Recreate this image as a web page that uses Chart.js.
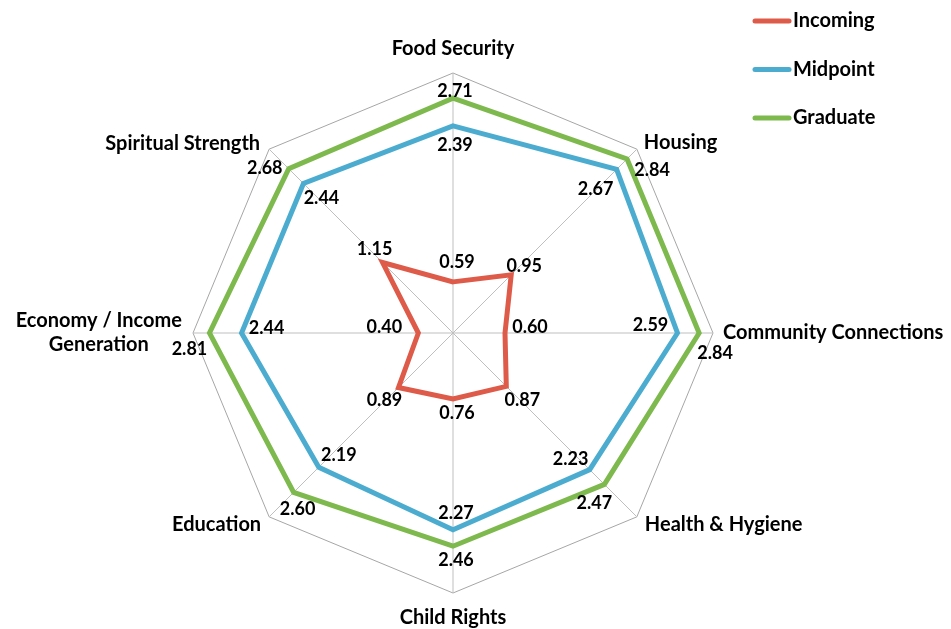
<!DOCTYPE html>
<html>
<head>
<meta charset="utf-8">
<script src="https://cdn.jsdelivr.net/npm/chart.js@4/dist/chart.umd.min.js"></script>
<style>
  body { margin: 0; background: #fff; }
  canvas { display: block; }
</style>
</head>
<body>
<canvas id="radar" width="951" height="629"></canvas>
<script>
// categories (clockwise from top)
const categories = [
  "Food Security",
  "Housing",
  "Community Connections",
  "Health & Hygiene",
  "Child Rights",
  "Education",
  ["Economy / Income", "Generation"],
  "Spiritual Strength",
];

const seriesNames = ["Incoming", "Midpoint", "Graduate"];
const incoming = [0.59, 0.95, 0.6, 0.87, 0.76, 0.89, 0.4, 1.15];
const midpoint = [2.39, 2.67, 2.59, 2.23, 2.27, 2.19, 2.44, 2.44];
const graduate = [2.71, 2.84, 2.84, 2.47, 2.46, 2.6, 2.81, 2.68];

const seriesColors = ["#DE5B49", "#4BACD0", "#7DB94D"];

// where each value label sits relative to its point (dx, dy)
const labelOffsets = [
  [[4, -20], [13, -9], [25, -6], [16, 14], [4, 14], [-14, 13], [-34, -6], [-8, -13]],
  [[2, 19], [-21, 20], [-27, -8], [-19, -10], [3, -17], [20, -12], [25, -5], [18, 15]],
  [[2, -7], [25, 11], [16, 20], [-10, 19], [3, 14], [4, 17], [-20, 16], [-24, -1]],
];

const FONT = "Lato, 'Open Sans', sans-serif";

// value labels next to each point
const valueLabels = {
  id: "valueLabels",
  afterDatasetsDraw(chart) {
    const ctx = chart.ctx;
    ctx.save();
    ctx.font = "bold 18px " + FONT;
    ctx.fillStyle = "#000";
    ctx.textAlign = "center";
    ctx.textBaseline = "middle";
    chart.data.datasets.forEach((ds, di) => {
      const meta = chart.getDatasetMeta(di);
      meta.data.forEach((pt, i) => {
        const off = labelOffsets[di][i];
        ctx.fillText(ds.data[i].toFixed(2), pt.x + off[0], pt.y + off[1]);
      });
    });
    ctx.restore();
  },
};

// category names around the outer ring
const categoryLabels = {
  id: "categoryLabels",
  afterDraw(chart) {
    const scale = chart.scales.r;
    const ctx = chart.ctx;
    const R = scale.drawingArea;
    ctx.save();
    ctx.font = "bold 20px " + FONT;
    ctx.fillStyle = "#000";
    ctx.textBaseline = "middle";
    categories.forEach((label, i) => {
      const p = scale.getPointPosition(i, R);
      const lines = Array.isArray(label) ? label : [label];
      let x = p.x, y = p.y;
      let align = "center";
      if (i === 0) { y -= 24; }
      else if (i === 4) { y += 25; }
      else if (i === 2) { x += 10; align = "left"; }
      else if (i === 6) {
        const w = Math.max(...lines.map((l) => ctx.measureText(l).width));
        x = x - 11 - w / 2;
        y -= 12;
      }
      else if (i === 1) { x += 7; y -= 7; align = "left"; }
      else if (i === 3) { x += 8; y += 8; align = "left"; }
      else if (i === 5) { x -= 8; y += 8; align = "right"; }
      else if (i === 7) { x -= 9; y -= 6; align = "right"; }
      ctx.textAlign = align;
      lines.forEach((l, k) => ctx.fillText(l, x, y + k * 24));
    });
    ctx.restore();
  },
};

// legend in the top-right corner
const sideLegend = {
  id: "sideLegend",
  afterDraw(chart) {
    const ctx = chart.ctx;
    ctx.save();
    ctx.font = "bold 20px " + FONT;
    ctx.textAlign = "left";
    ctx.textBaseline = "middle";
    chart.data.datasets.forEach((ds, i) => {
      const y = 21 + i * 48.5;
      ctx.strokeStyle = ds.borderColor;
      ctx.lineWidth = 5;
      ctx.lineCap = "round";
      ctx.beginPath();
      ctx.moveTo(755, y);
      ctx.lineTo(789, y);
      ctx.stroke();
      ctx.fillStyle = "#000";
      ctx.fillText(ds.label, 793, y);
    });
    ctx.restore();
  },
};

const ctx = document.getElementById("radar").getContext("2d");
new Chart(ctx, {
  type: "radar",
  data: {
    labels: categories,
    datasets: [incoming, midpoint, graduate].map((vals, i) => ({
      label: seriesNames[i],
      data: vals,
      borderColor: seriesColors[i],
      backgroundColor: "transparent",
      borderWidth: 5,
      borderJoinStyle: "miter",
      pointRadius: 0,
      fill: false,
    })),
  },
  options: {
    responsive: false,
    animation: false,
    layout: {
      padding: { left: 193, right: 238, top: 73, bottom: 36 },
    },
    plugins: {
      legend: { display: false },
      tooltip: { enabled: false },
    },
    scales: {
      r: {
        min: 0,
        max: 3,
        ticks: { display: false, stepSize: 3 },
        grid: { color: "#A6A6A6", lineWidth: 1 },
        angleLines: { color: "#BFBFBF", lineWidth: 1 },
        pointLabels: { display: false },
      },
    },
  },
  plugins: [valueLabels, categoryLabels, sideLegend],
});
</script>
</body>
</html>
